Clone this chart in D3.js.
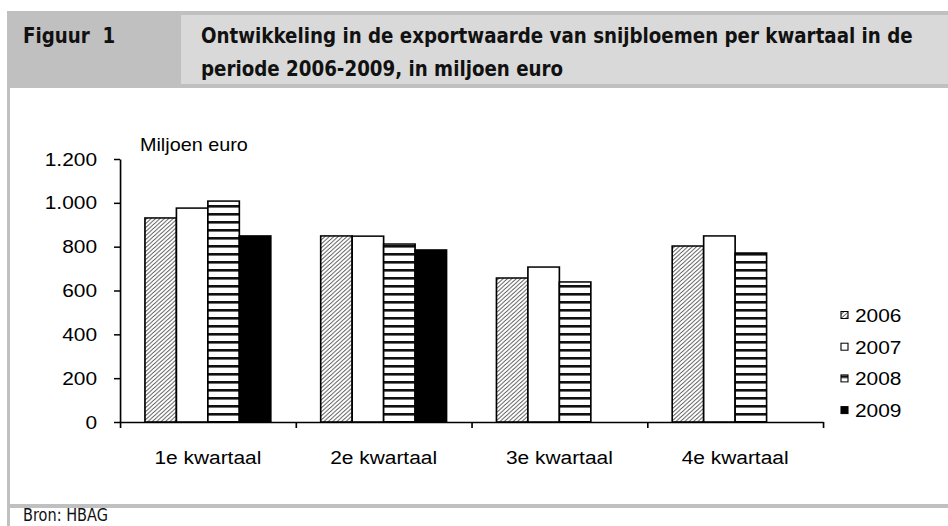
<!DOCTYPE html>
<html>
<head>
<meta charset="utf-8">
<script src="https://cdn.jsdelivr.net/npm/d3@7/dist/d3.min.js"></script>
<style>
  body { margin: 0; background: #fff; }
  svg { display: block; }
</style>
</head>
<body>
<div id="chart"></div>
<script>
// data
const quarters = ['1e kwartaal', '2e kwartaal', '3e kwartaal', '4e kwartaal'];
const years = ['2006', '2007', '2008', '2009'];
const values2006 = [931, 849, 657, 803];
const values2007 = [976, 848, 707, 849];
const values2008 = [1008, 812, 639, 771];
const values2009 = [849, 785, null, null];
const yTicks = [0, 200, 400, 600, 800, 1000, 1200];

const seriesValues = { 2006: values2006, 2007: values2007, 2008: values2008, 2009: values2009 };

const width = 948;
const height = 526;
// the original picture is stretched a bit horizontally
const sx = 1.1;

const nl = d3.formatLocale({ decimal: ',', thousands: '.', grouping: [3], currency: ['€ ', ''] });
const fmt = nl.format(',d');

const svg = d3
  .select('#chart')
  .append('svg')
  .attr('width', width)
  .attr('height', height);

// frame and header boxes
svg.append('rect').attr('x', 7).attr('y', 11).attr('width', 941).attr('height', 77).style('fill', '#c0c0c0');
svg.append('rect').attr('x', 181).attr('y', 15).attr('width', 767).attr('height', 69).style('fill', '#d9d9d9');
svg.append('rect').attr('x', 7).attr('y', 88).attr('width', 3).attr('height', 438).style('fill', '#c0c0c0');
svg.append('rect').attr('x', 7).attr('y', 504).attr('width', 941).attr('height', 4).style('fill', '#c0c0c0');

const narrow = '"Liberation Sans Narrow", "Arial Narrow", "DejaVu Sans Condensed", sans-serif';

// header texts: a bold face, squeezed so the first line fits its box
const headTexts = [
  { text: 'Ontwikkeling in de exportwaarde van snijbloemen per kwartaal in de', x: 201, y: 43 },
  { text: 'periode 2006-2009, in miljoen euro', x: 201, y: 76 },
  { text: 'Figuur  1', x: 23, y: 43 }
];

const heads = svg
  .selectAll('text.head')
  .data(headTexts)
  .enter()
  .append('text')
  .attr('class', 'head')
  .text((d) => d.text)
  .style('white-space', 'pre')
  .style('font-family', narrow)
  .style('font-weight', 'bold')
  .style('font-size', '22px')
  .style('fill', '#111');

const squeeze = 712 / heads.nodes()[0].getComputedTextLength();
heads.attr('transform', (d) => 'translate(' + d.x + ',' + d.y + ') scale(' + squeeze + ',1)');

const bron = svg
  .append('text')
  .text('Bron: HBAG')
  .style('font-family', narrow)
  .style('font-size', '18px')
  .style('fill', '#111');
const bronSqueeze = 85 / bron.node().getComputedTextLength();
bron.attr('transform', 'translate(23,521) scale(' + bronSqueeze + ',1)');

// patterns
const defs = svg.append('defs');
const diag = defs
  .append('pattern')
  .attr('id', 'p2006')
  .attr('patternUnits', 'userSpaceOnUse')
  .attr('width', 4)
  .attr('height', 4);
diag.append('rect').attr('width', 4).attr('height', 4).style('fill', '#fff');
diag
  .append('path')
  .attr('d', 'M0,4 L4,0 M-1,1 L1,-1 M3,5 L5,3')
  .style('stroke', '#444')
  .style('stroke-width', 0.85);

const horiz = defs
  .append('pattern')
  .attr('id', 'p2008')
  .attr('patternUnits', 'userSpaceOnUse')
  .attr('width', 8)
  .attr('height', 8);
horiz.append('rect').attr('width', 8).attr('height', 8).style('fill', '#fff');
horiz.append('rect').attr('y', 5).attr('width', 8).attr('height', 2.6).style('fill', '#111');

const fills = { 2006: 'url(#p2006)', 2007: '#fff', 2008: 'url(#p2008)', 2009: '#000' };

// chart body
const g = svg.append('g').attr('transform', 'scale(' + sx + ',1)');
const font = '"Liberation Sans", Arial, sans-serif';

const x0 = d3.scaleBand().domain(quarters).range([120 / sx, 823 / sx]);
const x1 = d3
  .scaleBand()
  .domain(years)
  .range([x0.bandwidth() * 0.142, x0.bandwidth() * 0.858]);
const y = d3.scaleLinear().domain([0, 1200]).range([422, 159]);

const barData = [];
years.forEach((yr) => {
  seriesValues[yr].forEach((v, i) => {
    if (v !== null) barData.push({ year: yr, quarter: quarters[i], value: v });
  });
});

g.selectAll('rect.bar')
  .data(barData)
  .enter()
  .append('rect')
  .attr('class', 'bar')
  .attr('x', (d) => x0(d.quarter) + x1(d.year))
  .attr('y', (d) => y(d.value))
  .attr('width', x1.bandwidth())
  .attr('height', (d) => y(0) - y(d.value))
  .style('fill', (d) => fills[d.year])
  .style('stroke', '#000')
  .style('stroke-width', 1.5);

// y axis
const yAxis = g
  .append('g')
  .attr('transform', 'translate(' + 120 / sx + ',0)')
  .call(
    d3
      .axisLeft(y)
      .tickValues(yTicks)
      .tickFormat(fmt)
      .tickSize(6 / sx)
      .tickSizeOuter(0)
      .tickPadding(17 / sx)
  );
yAxis.select('.domain').style('stroke', '#000').style('stroke-width', 1.5);
yAxis.selectAll('.tick line').style('stroke', '#000').style('stroke-width', 1.5);
yAxis
  .selectAll('.tick text')
  .style('font-family', font)
  .style('font-size', '19px')
  .style('fill', '#000');

// x axis: ticks at the group edges
const xEdge = d3.scaleLinear().domain([0, quarters.length]).range(x0.range());
const xAxis = g
  .append('g')
  .attr('transform', 'translate(0,' + y(0) + ')')
  .call(
    d3
      .axisBottom(xEdge)
      .tickValues(d3.range(quarters.length + 1))
      .tickFormat('')
      .tickSize(6)
      .tickSizeOuter(0)
  );
xAxis.select('.domain').style('stroke', '#000').style('stroke-width', 1.5);
xAxis.selectAll('.tick line').style('stroke', '#000').style('stroke-width', 1.5);

const xLabels = g
  .append('g')
  .attr('transform', 'translate(0,' + y(0) + ')')
  .call(d3.axisBottom(x0).tickSize(0).tickPadding(29));
xLabels.select('.domain').remove();
xLabels
  .selectAll('.tick text')
  .style('font-family', font)
  .style('font-size', '19px')
  .style('fill', '#000');

// unit label
g.append('text')
  .text('Miljoen euro')
  .attr('x', 140 / sx)
  .attr('y', 151)
  .style('font-family', font)
  .style('font-size', '18px')
  .style('fill', '#000');

// legend
const legend = g
  .selectAll('g.legend')
  .data(years)
  .enter()
  .append('g')
  .attr('class', 'legend')
  .attr('transform', (d, i) => 'translate(0,' + (315 + i * 31.7) + ')');

legend
  .append('rect')
  .attr('x', 841 / sx)
  .attr('y', -3.5)
  .attr('width', 7 / sx)
  .attr('height', 7)
  .style('fill', (d) => fills[d])
  .style('stroke', '#000')
  .style('stroke-width', 1);

legend
  .append('text')
  .text((d) => d)
  .attr('x', 855 / sx)
  .attr('y', 7)
  .style('font-family', font)
  .style('font-size', '19px')
  .style('fill', '#000');
</script>
</body>
</html>
